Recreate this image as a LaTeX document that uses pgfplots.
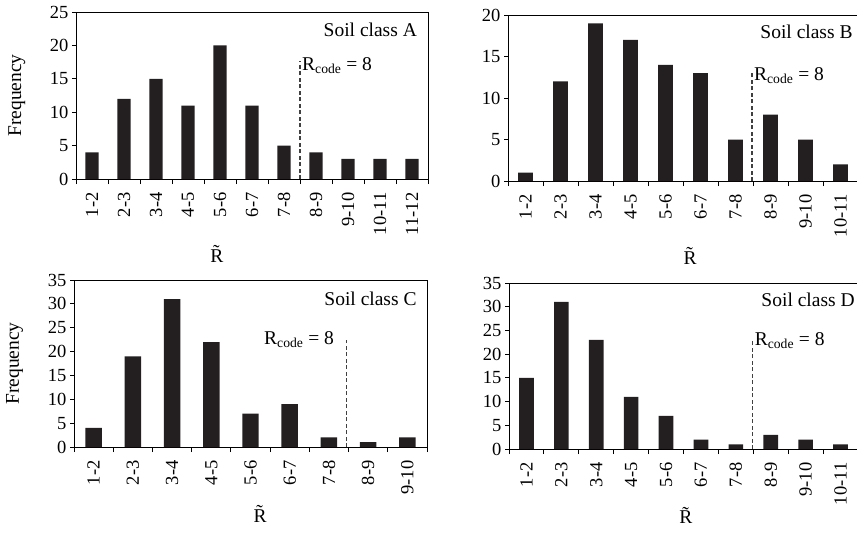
\documentclass[border=0pt]{standalone}
\usepackage{fontspec}
\setmainfont{Liberation Serif}
\usepackage{pgfplots}
\pgfplotsset{compat=1.18}

\definecolor{barfill}{HTML}{231F20}

\newcommand{\tfont}{\fontsize{19.5}{23}\selectfont}
\newcommand{\rcode}{R\textsubscript{code} = 8}

\pgfplotsset{
  soil/.style={
    scale only axis,
    ymin=0, xmin=0.5,
    axis line style={line width=0.9pt, black},
    tick pos=left, tick align=outside,
    major tick length=4pt, minor tick length=5pt,
    every tick/.append style={line width=0.9pt, black},
    every major x tick/.append style={draw=none},
    xticklabel style={rotate=90, anchor=east},
    xticklabel shift=6pt,
    /pgf/number format/assume math mode=true,
    every tick label/.append style={font=\fontsize{18.5}{20}\selectfont},
    every axis y label/.style={at={(axis description cs:-0.168,0.5)}, rotate=90, anchor=center, font=\tfont},
    xlabel={\~{R}},
    every axis x label/.style={anchor=center, font=\tfont},
  },
  bars/.style={ybar, bar width=0.42, fill=barfill, draw=none},
  rline/.style={sharp plot, dash pattern=on 4pt off 2.5pt, line width=1.2pt, black!75},
}

\begin{document}
\begin{tikzpicture}
\path[use as bounding box] (0,0) rectangle (857pt,-536pt);

% Soil class A
\begin{axis}[soil, anchor=south west, at={(76pt,-179pt)},
  width=352pt, height=167pt,
  xmax=11.5, ymax=25, ytick={0,5,...,25},
  xtick={1,...,11},
  xticklabels={1-2,2-3,3-4,4-5,5-6,6-7,7-8,8-9,9-10,10-11,11-12},
  minor xtick={0.5,1.5,...,11.5},
  ylabel={Frequency},
  xlabel style={at={(axis description cs:0.40,-0.45)}},
]
\addplot[bars] coordinates {(1,4) (2,12) (3,15) (4,11) (5,20) (6,11) (7,5) (8,4) (9,3) (10,3) (11,3)};
\addplot[rline] coordinates {(7.5,0) (7.5,17.6)};
\node[anchor=base west, inner sep=2pt, font=\tfont] at (axis cs:7.5,16.2) {\rcode};
\node[anchor=east, inner sep=0pt, font=\tfont] at (rel axis cs:0.969,0.892) {Soil class A};
\end{axis}

% Soil class B
\begin{axis}[soil, anchor=south west, at={(508pt,-181pt)},
  width=350pt, height=166pt,
  xmax=10.5, ymax=20, ytick={0,5,...,20},
  xtick={1,...,10},
  xticklabels={1-2,2-3,3-4,4-5,5-6,6-7,7-8,8-9,9-10,10-11},
  minor xtick={0.5,1.5,...,10.5},
  xlabel style={at={(axis description cs:0.52,-0.45)}},
]
\addplot[bars] coordinates {(1,1) (2,12) (3,19) (4,17) (5,14) (6,13) (7,5) (8,8) (9,5) (10,2)};
\addplot[rline] coordinates {(7.47,0) (7.47,13.2)};
\node[anchor=base west, inner sep=2pt, font=\tfont] at (axis cs:7.47,12.1) {\rcode};
\node[anchor=east, inner sep=0pt, font=\tfont] at (rel axis cs:0.985,0.90) {Soil class B};
\end{axis}

% Soil class C
\begin{axis}[soil, anchor=south west, at={(74pt,-447pt)},
  width=353pt, height=167pt,
  xmax=9.5, ymax=35, ytick={0,5,...,35},
  xtick={1,...,9},
  xticklabels={1-2,2-3,3-4,4-5,5-6,6-7,7-8,8-9,9-10},
  minor xtick={0.5,1.5,...,9.5},
  ylabel={Frequency},
  xlabel style={at={(axis description cs:0.527,-0.40)}},
]
\addplot[bars] coordinates {(1,4) (2,19) (3,31) (4,22) (5,7) (6,9) (7,2) (8,1) (9,2)};
\addplot[rline] coordinates {(7.44,0) (7.44,22.4)};
\node[anchor=base east, inner sep=2pt, xshift=-10pt, font=\tfont] at (axis cs:7.44,21.5) {\rcode};
\node[anchor=east, inner sep=0pt, font=\tfont] at (rel axis cs:0.971,0.89) {Soil class C};
\end{axis}

% Soil class D
\begin{axis}[soil, anchor=south west, at={(509pt,-449pt)},
  width=349pt, height=166pt,
  xmax=10.5, ymax=35, ytick={0,5,...,35},
  xtick={1,...,10},
  xticklabels={1-2,2-3,3-4,4-5,5-6,6-7,7-8,8-9,9-10,10-11},
  minor xtick={0.5,1.5,...,10.5},
  xlabel style={at={(axis description cs:0.507,-0.40)}},
]
\addplot[bars] coordinates {(1,15) (2,31) (3,23) (4,11) (5,7) (6,2) (7,1) (8,3) (9,2) (10,1)};
\addplot[rline] coordinates {(7.48,0) (7.48,22.8)};
\node[anchor=base west, inner sep=2pt, font=\tfont] at (axis cs:7.48,21.8) {\rcode};
\node[anchor=east, inner sep=0pt, font=\tfont] at (rel axis cs:0.991,0.90) {Soil class D};
\end{axis}
\end{tikzpicture}
\end{document}
